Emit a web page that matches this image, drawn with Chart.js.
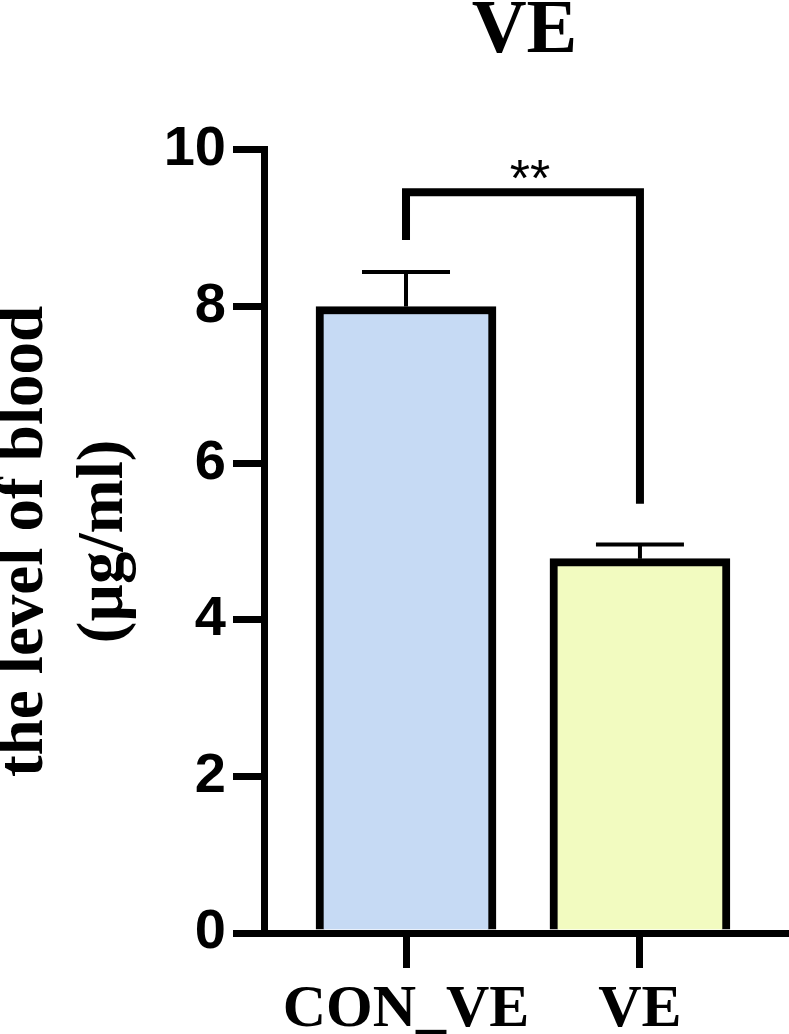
<!DOCTYPE html>
<html>
<head>
<meta charset="utf-8">
<script src="https://cdn.jsdelivr.net/npm/chart.js@4"></script>
<style>
  html, body { margin: 0; padding: 0; background: #fff; }
  #c { display: block; }
</style>
</head>
<body>
<canvas id="c" width="789" height="1034"></canvas>
<script>
// ---- data ----
const categories = ['CON_VE', 'VE'];
const means = [8.0, 4.78];
const sems = [0.44, 0.18];
const barColors = ['#C6DAF4', '#F2FBC0'];
const yTickValues = [0, 2, 4, 6, 8, 10];
const chartTitle = 'VE';
const yTitle = ['the level of blood', '(µg/ml)'];
// significance bracket (in data units)
const sigPair = [0, 1];
const sigTop = 9.46;
const sigLegEnds = [8.85, 5.48];
const sigLabel = '**';

const barData = means.map((v, i) => ({ x: i + 1, y: v }));

const extras = {
  id: 'extras',
  afterDatasetsDraw(chart) {
    const { ctx, scales: { x, y } } = chart;
    ctx.save();
    ctx.strokeStyle = '#000';
    // error bars
    ctx.lineWidth = 4;
    ctx.lineCap = 'butt';
    means.forEach((m, i) => {
      const px = x.getPixelForValue(i + 1);
      const y0 = y.getPixelForValue(m);
      const y1 = y.getPixelForValue(m + sems[i]);
      ctx.beginPath();
      ctx.moveTo(px, y0);
      ctx.lineTo(px, y1);
      ctx.moveTo(px - 44, y1);
      ctx.lineTo(px + 44, y1);
      ctx.stroke();
    });
    // bracket
    const xa = x.getPixelForValue(sigPair[0] + 1);
    const xb = x.getPixelForValue(sigPair[1] + 1);
    const yt = y.getPixelForValue(sigTop);
    ctx.lineWidth = 8;
    ctx.lineJoin = 'miter';
    ctx.beginPath();
    ctx.moveTo(xa, y.getPixelForValue(sigLegEnds[0]));
    ctx.lineTo(xa, yt);
    ctx.lineTo(xb, yt);
    ctx.lineTo(xb, y.getPixelForValue(sigLegEnds[1]));
    ctx.stroke();
    ctx.fillStyle = '#000';
    ctx.font = '52px "Liberation Sans"';
    ctx.textAlign = 'center';
    ctx.textBaseline = 'alphabetic';
    ctx.fillText(sigLabel, (xa + xb) / 2 + 7, yt + 4);
    ctx.restore();
  }
};

new Chart(document.getElementById('c'), {
  type: 'bar',
  data: {
    datasets: [{
      data: barData,
      backgroundColor: barColors,
      borderColor: '#000',
      borderWidth: 8,
      borderSkipped: 'start',
      barThickness: 180
    }]
  },
  options: {
    responsive: false,
    animation: false,
    layout: { padding: { left: 0, right: 4, top: 0, bottom: 0 } },
    plugins: {
      legend: { display: false },
      tooltip: { enabled: false },
      title: {
        display: true,
        fullSize: false,
        text: chartTitle,
        color: '#000',
        font: { family: 'Liberation Serif', weight: 'bold', size: 76, lineHeight: 0.84 },
        padding: { top: 0, bottom: 86 }
      }
    },
    scales: {
      x: {
        type: 'linear',
        offset: false,
        min: 0.393,
        max: 2.62,
        afterBuildTicks: (s) => { s.ticks = categories.map((c, i) => ({ value: i + 1 })); },
        afterFit: (s) => { s.height = 101; },
        ticks: {
          callback: (v) => categories[v - 1] ?? '',
          color: '#000',
          padding: 6,
          font: { family: 'Liberation Serif', weight: 'bold', size: 60 }
        },
        grid: { display: true, offset: false, drawOnChartArea: false, drawTicks: true, tickLength: 35, lineWidth: 7, color: '#000' },
        border: { display: true, width: 7, color: '#000' }
      },
      y: {
        min: 0,
        max: 10,
        afterBuildTicks: (s) => { s.ticks = yTickValues.map(v => ({ value: v })); },
        afterFit: (s) => { s.width = 264; },
        ticks: {
          color: '#000',
          padding: 7,
          font: { family: 'Liberation Sans', weight: 'bold', size: 56 }
        },
        grid: { display: true, drawOnChartArea: false, drawTicks: true, tickLength: 31, lineWidth: 7, color: '#000' },
        border: { display: true, width: 7, color: '#000' },
        title: {
          display: true,
          text: yTitle,
          color: '#000',
          font: { family: 'Liberation Serif', weight: 'bold', size: 65, lineHeight: 1.24 },
          padding: { top: -15.5, bottom: 0 }
        }
      }
    }
  },
  plugins: [extras]
});
</script>
</body>
</html>
